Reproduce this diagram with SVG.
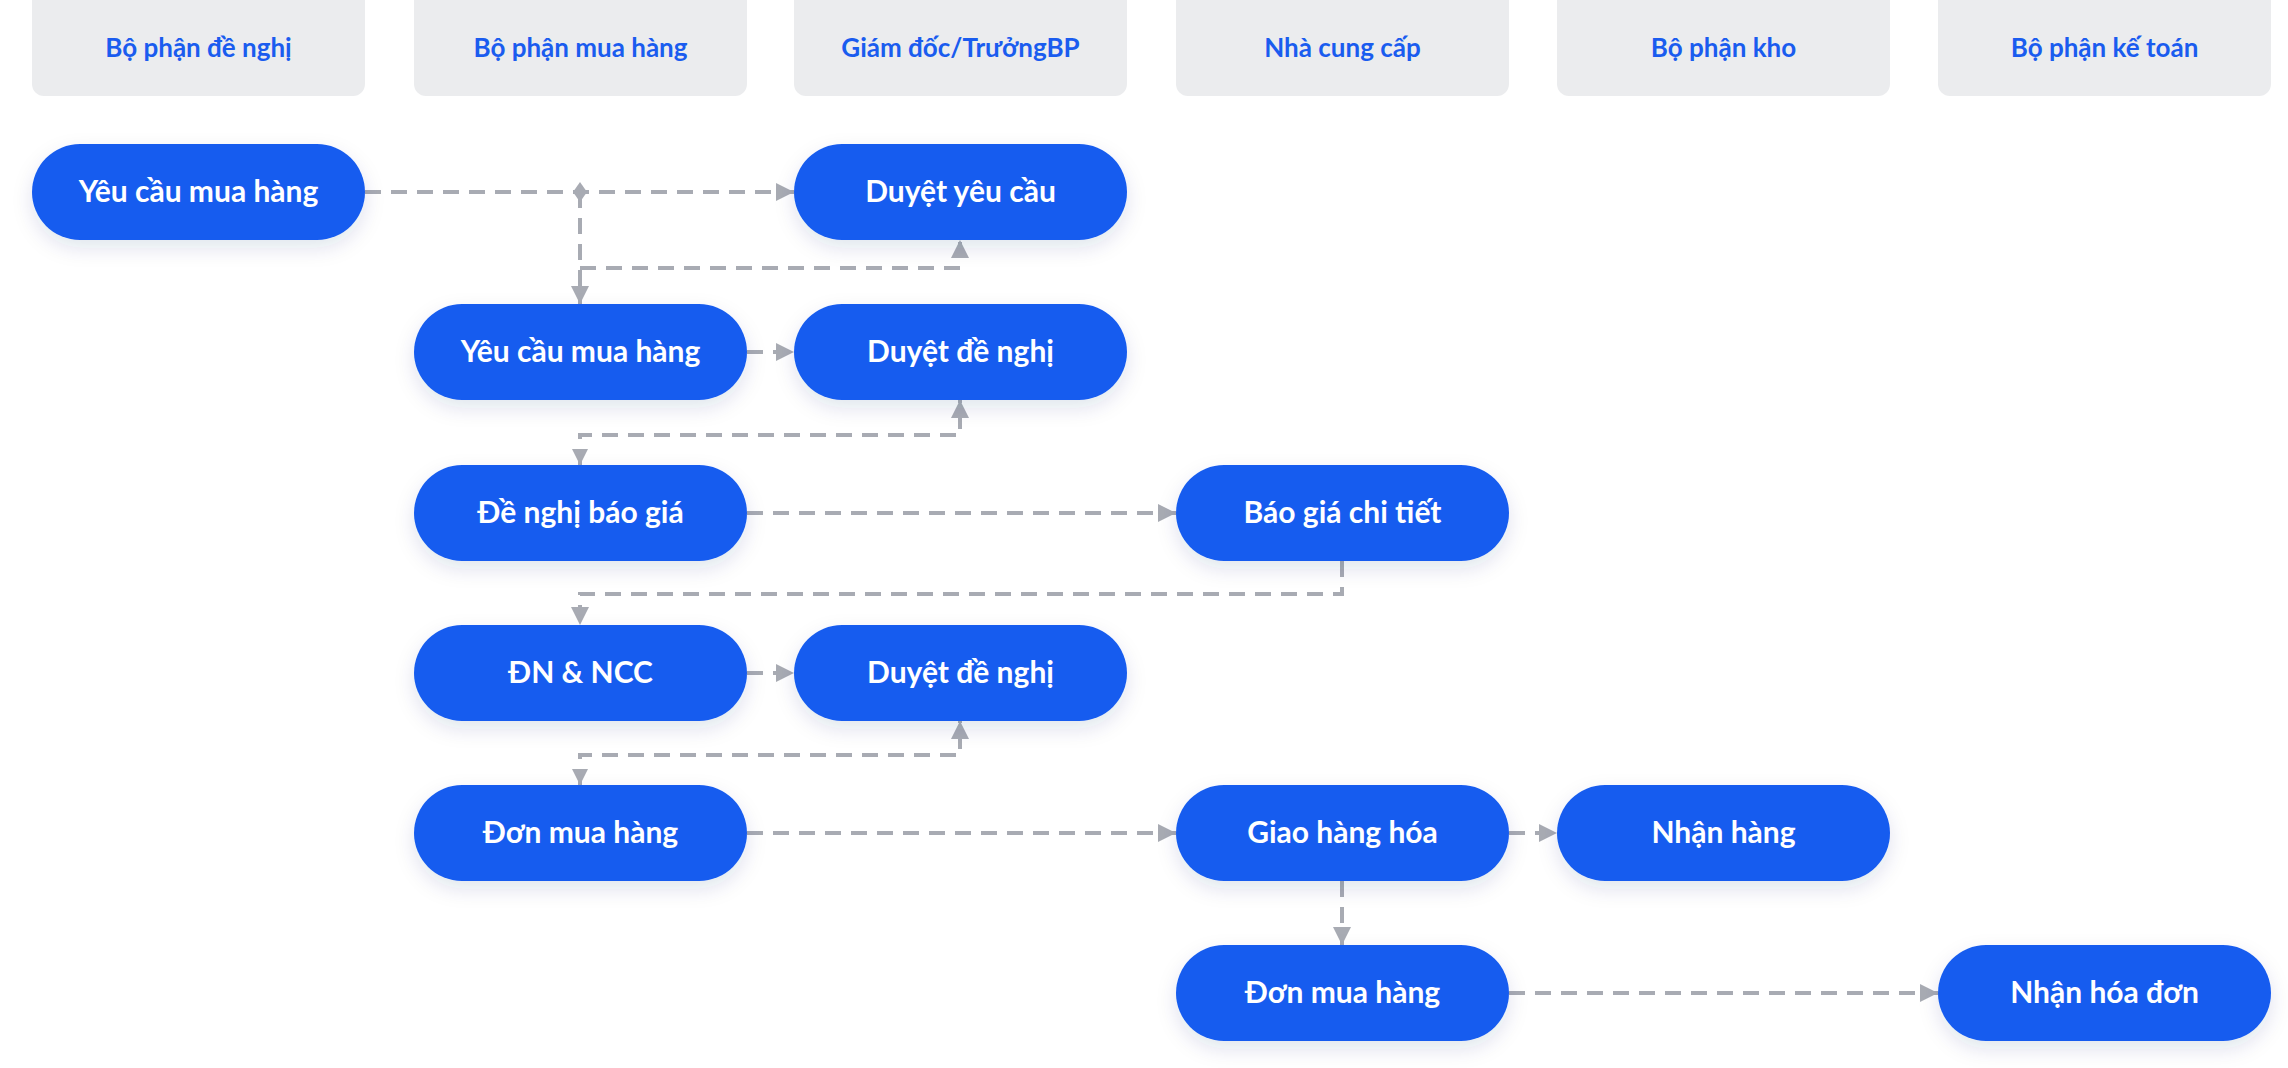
<svg xmlns="http://www.w3.org/2000/svg" width="2288" height="1068" viewBox="0 0 2288 1068">
<defs>
<style>
.hdr{fill:#EBECEE}
.ht{font-family:Lato,"Open Sans",sans-serif;font-weight:700;font-size:26px;fill:#1A5CEF;text-anchor:middle}
.nd{fill:#175CEF;filter:url(#sh)}
.nt{font-family:Lato,"Open Sans",sans-serif;font-weight:700;font-size:30px;fill:#fff;text-anchor:middle}
.c{fill:none;stroke:#A8ABB3;stroke-width:4;stroke-dasharray:16 10}
</style>
<filter id="sh" x="-20%" y="-30%" width="140%" height="170%"><feDropShadow dx="0" dy="8" stdDeviation="10" flood-color="#1A2A6C" flood-opacity="0.12"/></filter>
<marker id="a" viewBox="0 0 16 16" markerWidth="18" markerHeight="18" refX="16" refY="8" orient="auto" markerUnits="userSpaceOnUse"><path d="M0,0L16,8L0,16z" fill="#A8ABB3"/></marker>
</defs>
<g id="headers">
<rect class="hdr" x="32" y="-12" width="333" height="108" rx="12"/><text class="ht" x="198.5" y="57">Bộ phận đề nghị</text>
<rect class="hdr" x="414" y="-12" width="333" height="108" rx="12"/><text class="ht" x="580.5" y="57">Bộ phận mua hàng</text>
<rect class="hdr" x="794" y="-12" width="333" height="108" rx="12"/><text class="ht" x="960.5" y="57">Giám đốc/TrưởngBP</text>
<rect class="hdr" x="1176" y="-12" width="333" height="108" rx="12"/><text class="ht" x="1342.5" y="57">Nhà cung cấp</text>
<rect class="hdr" x="1557" y="-12" width="333" height="108" rx="12"/><text class="ht" x="1723.5" y="57">Bộ phận kho</text>
<rect class="hdr" x="1938" y="-12" width="333" height="108" rx="12"/><text class="ht" x="2104.5" y="57">Bộ phận kế toán</text>
</g>
<g id="connectors">
<path class="c" d="M365,192H794" marker-end="url(#a)"/>
<path d="M580,182L587,192L580,202L573,192z" fill="#A8ABB3"/>
<path class="c" d="M580,192V304" stroke-width="3" marker-end="url(#a)"/>
<path class="c" d="M580,268H960V240" marker-end="url(#a)"/>
<path class="c" d="M747,352H794" marker-end="url(#a)"/>
<path class="c" d="M580,465V435H960V400" marker-end="url(#a)"/>
<path d="M572,449L580,465L588,449z" fill="#A8ABB3"/>
<path class="c" d="M747,513H1176" marker-end="url(#a)"/>
<path class="c" d="M1342,561V594H580V625" marker-end="url(#a)"/>
<path class="c" d="M747,673H794" marker-end="url(#a)"/>
<path class="c" d="M580,785V755H960V721" marker-end="url(#a)"/>
<path d="M572,769L580,785L588,769z" fill="#A8ABB3"/>
<path class="c" d="M747,833H1176" marker-end="url(#a)"/>
<path class="c" d="M1509,833H1557" marker-end="url(#a)"/>
<path class="c" d="M1342,881V945" marker-end="url(#a)"/>
<path class="c" d="M1509,993H1938" marker-end="url(#a)"/>
</g>
<g id="n1"><rect class="nd" x="32" y="144" width="333" height="96" rx="48"/><text class="nt" x="198.5" y="202">Yêu cầu mua hàng</text></g>
<g id="n2"><rect class="nd" x="794" y="144" width="333" height="96" rx="48"/><text class="nt" x="960.5" y="202">Duyệt yêu cầu</text></g>
<g id="n3"><rect class="nd" x="414" y="304" width="333" height="96" rx="48"/><text class="nt" x="580.5" y="362">Yêu cầu mua hàng</text></g>
<g id="n4"><rect class="nd" x="794" y="304" width="333" height="96" rx="48"/><text class="nt" x="960.5" y="362">Duyệt đề nghị</text></g>
<g id="n5"><rect class="nd" x="414" y="465" width="333" height="96" rx="48"/><text class="nt" x="580.5" y="523">Đề nghị báo giá</text></g>
<g id="n6"><rect class="nd" x="1176" y="465" width="333" height="96" rx="48"/><text class="nt" x="1342.5" y="523">Báo giá chi tiết</text></g>
<g id="n7"><rect class="nd" x="414" y="625" width="333" height="96" rx="48"/><text class="nt" x="580.5" y="683">ĐN &amp; NCC</text></g>
<g id="n8"><rect class="nd" x="794" y="625" width="333" height="96" rx="48"/><text class="nt" x="960.5" y="683">Duyệt đề nghị</text></g>
<g id="n9"><rect class="nd" x="414" y="785" width="333" height="96" rx="48"/><text class="nt" x="580.5" y="843">Đơn mua hàng</text></g>
<g id="n10"><rect class="nd" x="1176" y="785" width="333" height="96" rx="48"/><text class="nt" x="1342.5" y="843">Giao hàng hóa</text></g>
<g id="n11"><rect class="nd" x="1557" y="785" width="333" height="96" rx="48"/><text class="nt" x="1723.5" y="843">Nhận hàng</text></g>
<g id="n12"><rect class="nd" x="1176" y="945" width="333" height="96" rx="48"/><text class="nt" x="1342.5" y="1003">Đơn mua hàng</text></g>
<g id="n13"><rect class="nd" x="1938" y="945" width="333" height="96" rx="48"/><text class="nt" x="2104.5" y="1003">Nhận hóa đơn</text></g>
</svg>
